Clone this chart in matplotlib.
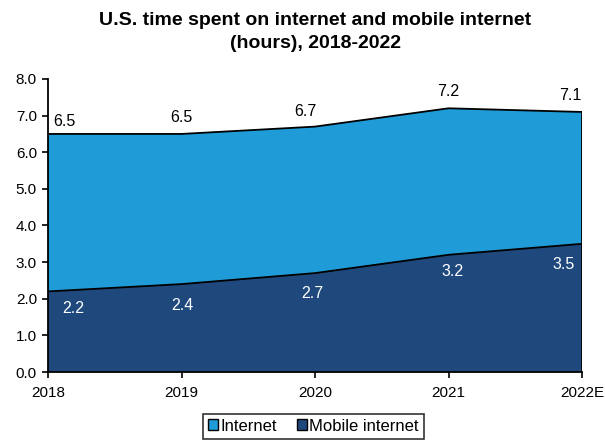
import numpy as np
import matplotlib.pyplot as plt
from matplotlib.patches import Patch

plt.rcParams['font.family'] = ['Liberation Sans', 'DejaVu Sans']

years = ['2018', '2019', '2020', '2021', '2022E']
internet = [6.5, 6.5, 6.7, 7.2, 7.1]
mobile = [2.2, 2.4, 2.7, 3.2, 3.5]

c_internet = '#1f9bd7'
c_mobile = '#1f497d'

x = np.arange(len(years))

fig = plt.figure(figsize=(6.05, 4.4), dpi=100)
ax = fig.add_axes([48 / 605, 68 / 440, 534 / 605, 293 / 440])

ax.fill_between(x, 0, internet, color=c_internet, edgecolor='none')
ax.fill_between(x, 0, mobile, color=c_mobile, edgecolor='none')
ax.plot(x, internet, color='black', lw=1.3)
ax.plot(x, mobile, color='black', lw=1.3)
ax.plot([x[-1], x[-1]], [0, internet[-1]], color='black', lw=1.3)

ax.set_xlim(0, len(years) - 1)
ax.set_ylim(0, 8)
ax.set_yticks(np.arange(0, 8.1, 1.0))
ax.set_yticklabels([f'{v:.1f}' for v in np.arange(0, 8.1, 1.0)])
ax.set_xticks(x)
ax.set_xticklabels(years)
ax.tick_params(axis='both', labelsize=11, direction='out', length=4, width=1.2, color='black')
ax.tick_params(axis='x', pad=6)
ax.tick_params(axis='y', pad=4)
for s in ['top', 'right']:
    ax.spines[s].set_visible(False)
for s in ['left', 'bottom']:
    ax.spines[s].set_linewidth(1.3)

# value labels: totals above the line, mobile below it (offsets in axis units)
top_dx = [0.12, 0.0, -0.07, 0.0, -0.09]
top_dy = [0.35, 0.45, 0.40, 0.47, 0.44]
low_dx = [0.19, 0.01, -0.02, 0.03, -0.14]
low_dy = [-0.47, -0.59, -0.56, -0.46, -0.56]
for i in range(len(years)):
    ax.text(x[i] + top_dx[i], internet[i] + top_dy[i], f'{internet[i]:.1f}',
            ha='center', va='center', fontsize=11.5, color='black')
    ax.text(x[i] + low_dx[i], mobile[i] + low_dy[i], f'{mobile[i]:.1f}',
            ha='center', va='center', fontsize=11.5, color='white')

fig.text(315 / 605, 1 - 32 / 440, 'U.S. time spent on internet and mobile internet\n(hours), 2018-2022',
         ha='center', va='center', fontsize=14, fontweight='bold', linespacing=1.4)

handles = [Patch(facecolor=c_internet, edgecolor='black', label='Internet'),
           Patch(facecolor=c_mobile, edgecolor='black', label='Mobile internet')]
leg = fig.legend(handles=handles, loc='center', bbox_to_anchor=(313 / 605, 1 - 426 / 440),
                 ncol=2, fontsize=12, frameon=True, fancybox=False, edgecolor='black',
                 handlelength=0.6, handleheight=0.6, handletextpad=0.15, columnspacing=1.2,
                 borderpad=0.3, borderaxespad=0)
leg.get_frame().set_linewidth(1.2)

fig.savefig('out.png', dpi=100)
